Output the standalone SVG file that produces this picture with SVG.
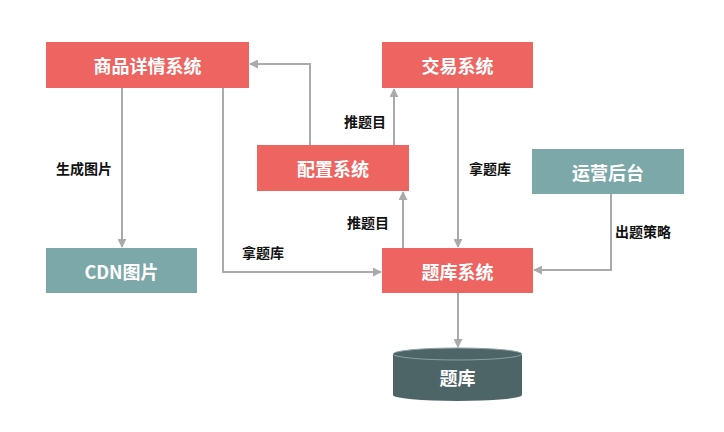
<svg xmlns="http://www.w3.org/2000/svg" width="724" height="432" viewBox="0 0 724 432">
<defs>
<style>
.red{fill:#ee6461}
.teal{fill:#7ca8a9}
.nt{fill:#fff;font-family:"Noto Sans CJK SC","Liberation Sans",sans-serif;font-size:18px;font-weight:bold;text-anchor:middle;dominant-baseline:central}
.lbl{fill:#111;font-family:"Noto Sans CJK SC","Liberation Sans",sans-serif;font-size:14px;font-weight:bold;text-anchor:middle;dominant-baseline:central}
.ln{fill:none;stroke:#aaaaaa;stroke-width:2;marker-end:url(#ah)}
</style>
<marker id="ah" viewBox="0 0 10 10" refX="9" refY="5" markerWidth="9" markerHeight="9" markerUnits="userSpaceOnUse" orient="auto"><path d="M0,0 L10,5 L0,10 z" fill="#aaaaaa"/></marker>
</defs>
<rect width="724" height="432" fill="#fff"/>
<g id="connectors">
<path class="ln" d="M122,88 V247"/>
<path class="ln" d="M223,88 V272 H381"/>
<path class="ln" d="M310,145 V64 H250"/>
<path class="ln" d="M394,145 V89"/>
<path class="ln" d="M403,248 V192"/>
<path class="ln" d="M458,88 V247"/>
<path class="ln" d="M611,194 V270 H534"/>
<path class="ln" d="M458,293 V347"/>
<text class="lbl" x="84" y="168">生成图片</text>
<text class="lbl" x="263" y="252">拿题库</text>
<text class="lbl" x="365" y="121">推题目</text>
<text class="lbl" x="368" y="222">推题目</text>
<text class="lbl" x="490" y="168">拿题库</text>
<text class="lbl" x="643" y="231">出题策略</text>
</g>
<g id="n1"><rect class="red" x="46" y="42" width="203" height="46"/><text class="nt" x="147.5" y="65">商品详情系统</text></g>
<g id="n2"><rect class="red" x="382" y="42" width="151" height="46"/><text class="nt" x="457.5" y="65">交易系统</text></g>
<g id="n3"><rect class="red" x="257" y="145" width="152" height="46"/><text class="nt" x="333" y="168">配置系统</text></g>
<g id="n4"><rect class="teal" x="532" y="149" width="152" height="45"/><text class="nt" x="608" y="171.5">运营后台</text></g>
<g id="n5"><rect class="teal" x="46" y="248" width="151" height="45"/><text class="nt" x="121.5" y="270.5">CDN图片</text></g>
<g id="n6"><rect class="red" x="382" y="248" width="151" height="45"/><text class="nt" x="457.5" y="270.5">题库系统</text></g>
<g id="n7">
<path d="M393,354 V395 A64.5,6 0 0 0 522,395 V354 Z" fill="#4e6567"/>
<ellipse cx="457.5" cy="354" rx="64.5" ry="6" fill="#4e6567" stroke="#8aa0a2" stroke-width="1"/>
<text class="nt" x="457.5" y="377">题库</text>
</g>
</svg>
